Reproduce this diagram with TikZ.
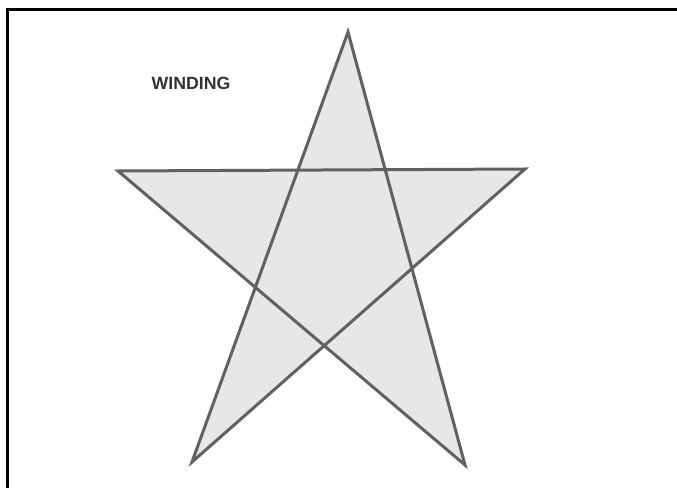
\documentclass[tikz,border=0pt]{standalone}
\usepackage{fontspec}
\setsansfont{Liberation Sans}
\usetikzlibrary{positioning}
\definecolor{cframe}{HTML}{000000}
\definecolor{cstroke}{HTML}{616161}
\definecolor{cfill}{HTML}{E6E7E9}
\definecolor{ctext}{HTML}{333333}
\tikzset{
  every picture/.style={font=\sffamily, x=0.75pt, y=-0.75pt},
  frame/.style={draw=cframe, line width=2.25pt},
  starshape/.style={draw=cstroke, fill=cfill, line width=2.25pt, line join=miter, nonzero rule},
  label/.style={font=\sffamily\bfseries\fontsize{13.3}{15}\selectfont, text=ctext, inner sep=0pt},
}

\begin{document}
\begin{tikzpicture}
  \useasboundingbox (0,0) rectangle (677,488);
  \draw[frame] (7.5,490) -- (7.5,9.5) -- (680,9.5);
  \coordinate (top) at (348,32);
  \coordinate (left) at (118,171);
  \coordinate (right) at (525,169);
  \coordinate (botl) at (192,462);
  \coordinate (botr) at (465,465);
  \draw[starshape] (top) -- (botl) -- (right) -- (left) -- (botr) -- cycle;
  \node[label] (title) at (191,83.5) {WINDING};
\end{tikzpicture}
\end{document}
